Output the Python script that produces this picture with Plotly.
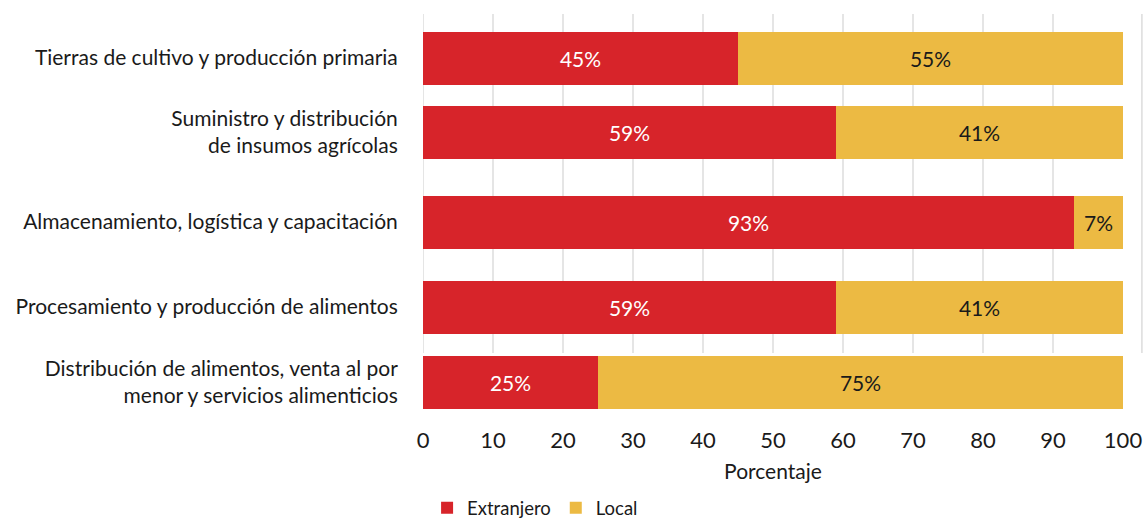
import plotly.graph_objects as go

# Value-chain stages and the foreign / local split (%)
categories = [
    "Tierras de cultivo y producción primaria",
    "Suministro y distribución<br>de insumos agrícolas",
    "Almacenamiento, logística y capacitación",
    "Procesamiento y producción de alimentos",
    "Distribución de alimentos, venta al por<br>menor y servicios alimenticios",
]
extranjero = [45, 59, 93, 59, 25]
local = [55, 41, 7, 41, 75]
x_ticks = [0, 10, 20, 30, 40, 50, 60, 70, 80, 90, 100]

# Vertical placement of each bar (uneven spacing, top to bottom)
row_pos = [44, 118, 208, 293, 368]
bar_thickness = 53

RED = "#d7242a"
YELLOW = "#ecba43"
FONT = "Lato"
INK = "#1a1a1a"

fig = go.Figure()
fig.add_trace(go.Bar(
    name="Extranjero", y=row_pos, x=extranjero, orientation="h",
    width=bar_thickness, marker=dict(color=RED, line=dict(width=0)),
    texttemplate="%{x}%", textposition="inside", insidetextanchor="middle",
    textangle=0, constraintext="none",
    textfont=dict(family=FONT, size=21, color="white"),
))
fig.add_trace(go.Bar(
    name="Local", y=row_pos, x=local, orientation="h",
    width=bar_thickness, marker=dict(color=YELLOW, line=dict(width=0)),
    texttemplate="%{x}%", textposition="inside", insidetextanchor="middle",
    textangle=0, constraintext="none",
    textfont=dict(family=FONT, size=21, color=INK),
))

# Light vertical gridlines behind the bars (0–90) plus the right-hand frame line
shapes = []
for v in x_ticks[:-1]:
    shapes.append(dict(type="line", xref="x", yref="y", x0=v, x1=v, y0=0, y1=339,
                       line=dict(color="#dcdcdc", width=1.5), layer="below"))
shapes.append(dict(type="line", xref="paper", yref="y", x0=1.027, x1=1.027, y0=0, y1=339,
                   line=dict(color="#dcdcdc", width=1.5), layer="below"))

fig.update_layout(
    width=1145, height=518,
    margin=dict(l=423, r=22, t=14, b=106, autoexpand=False),
    barmode="stack",
    plot_bgcolor="white", paper_bgcolor="white",
    font=dict(family=FONT, color=INK),
    shapes=shapes,
    showlegend=True,
    legend=dict(orientation="h", xref="container", yref="container",
                x=0.373, xanchor="left", y=0.019, yanchor="middle",
                font=dict(family=FONT, size=18.5, color=INK), traceorder="normal",
                itemwidth=30),
    xaxis=dict(range=[0, 100], tickvals=x_ticks, showgrid=False, zeroline=False,
               showline=False, ticks="outside", ticklen=9, tickcolor="rgba(0,0,0,0)",
               automargin=False,
               tickfont=dict(family=FONT, size=22, color=INK),
               title=dict(text="Porcentaje", font=dict(family=FONT, size=21, color=INK),
                          standoff=11)),
    yaxis=dict(range=[398, 0], tickvals=row_pos, ticktext=categories, showgrid=False,
               zeroline=False, showline=False, ticks="outside", ticklen=20,
               tickcolor="rgba(0,0,0,0)", automargin=False,
               tickfont=dict(family=FONT, size=21, color=INK)),
)

fig.write_html("out.html")
